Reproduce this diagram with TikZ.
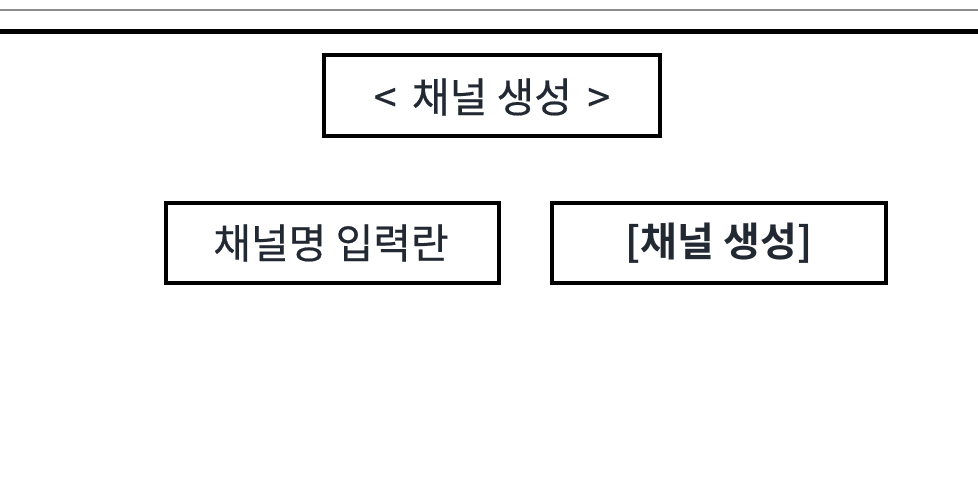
\documentclass[tikz,border=0pt]{standalone}
\usepackage{fontspec}
\newfontfamily\kr[FakeBold=0.5]{Noto Sans CJK KR}
\newfontfamily\krb{Noto Sans CJK KR Bold}
\definecolor{txt}{HTML}{222933}
\definecolor{rule}{HTML}{8C8C8C}
\begin{document}
\begin{tikzpicture}[x=1pt,y=-1pt,
  boxframe/.style={draw=black,line width=4pt},
  label/.style={text=txt,font=\kr\fontsize{41}{46}\selectfont},
  blabel/.style={text=txt,font=\krb\fontsize{40}{46}\selectfont}]
\useasboundingbox (0,0) rectangle (978,494);
\fill[white] (0,0) rectangle (978,494);
\coordinate (tl) at (0,10);
\coordinate (tr) at (978,10);
\coordinate (bl) at (0,31.5);
\coordinate (br) at (978,31.5);
\draw[rule,line width=1.2pt] (tl) -- (tr);
\draw[black,line width=4.5pt] (bl) -- (br);
\draw[boxframe] (324,55) rectangle (660,136);
\node[label] (title) at (492,97) {<\hspace{0.15em} 채널 생성 \hspace{0.15em}>};
\draw[boxframe] (166,203) rectangle (499,283);
\node[label] (input) at (331,243) {채널명 입력란};
\draw[boxframe] (552,203) rectangle (886,283);
\node[blabel] (btn) at (719,243) {[채널 생성]};
\end{tikzpicture}
\end{document}
